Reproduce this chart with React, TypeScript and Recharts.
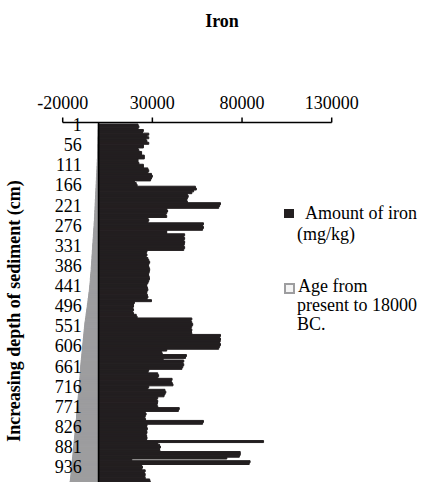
import React from 'react';
import { BarChart, Bar, XAxis, YAxis, ReferenceLine } from 'recharts';

const depths = [
  1, 6, 11, 16, 21, 26, 31, 36, 41, 46,
  51, 56, 61, 66, 71, 76, 81, 86, 91, 96,
  101, 106, 111, 116, 121, 126, 131, 136, 141, 146,
  151, 156, 161, 166, 171, 176, 181, 186, 191, 196,
  201, 206, 211, 216, 221, 226, 231, 236, 241, 246,
  251, 256, 261, 266, 271, 276, 281, 286, 291, 296,
  301, 306, 311, 316, 321, 326, 331, 336, 341, 346,
  351, 356, 361, 366, 371, 376, 381, 386, 391, 396,
  401, 406, 411, 416, 421, 426, 431, 436, 441, 446,
  451, 456, 461, 466, 471, 476, 481, 486, 491, 496,
  501, 506, 511, 516, 521, 526, 531, 536, 541, 546,
  551, 556, 561, 566, 571, 576, 581, 586, 591, 596,
  601, 606, 611, 616, 621, 626, 631, 636, 641, 646,
  651, 656, 661, 666, 671, 676, 681, 686, 691, 696,
  701, 706, 711, 716, 721, 726, 731, 736, 741, 746,
  751, 756, 761, 766, 771, 776, 781, 786, 791, 796,
  801, 806, 811, 816, 821, 826, 831, 836, 841, 846,
  851, 856, 861, 866, 871, 876, 881, 886, 891, 896,
  901, 906, 911, 916, 921, 926, 931, 936, 941, 946,
  951, 956, 961, 966, 971, 976, 981, 986,
];

const ironValues = [
  22000, 22500, 22000, 25000, 24500, 28000, 27000, 28000, 26500, 27000,
  28000, 25000, 25000, 22000, 22500, 24000, 24000, 25500, 25500, 22000,
  22000, 22500, 25000, 25000, 27500, 28000, 27500, 29500, 30000, 29500,
  29000, 20000, 21000, 21500, 54000, 54500, 53000, 52000, 49500, 50000,
  49500, 49000, 49500, 68000, 67500, 67000, 38000, 38500, 38000, 37500,
  38000, 27500, 28000, 27500, 58500, 58000, 58500, 58000, 38000, 38000,
  48000, 47500, 48000, 47500, 48000, 47800, 47500, 48000, 47500, 27000,
  26500, 27000, 26500, 27500, 28000, 28500, 28000, 27800, 28200, 28500,
  28300, 28000, 27800, 28200, 28400, 28000, 27600, 27000, 26800, 27200,
  27500, 27000, 26800, 27200, 27500, 27000, 29500, 20000, 19500, 19500,
  19000, 19500, 19000, 19500, 21000, 21500, 52000, 51500, 52000, 52500,
  52000, 51500, 52000, 51800, 52000, 68000, 67500, 68000, 67800, 67500,
  68000, 67500, 67000, 38000, 35000, 35500, 49000, 48500, 36000, 47500,
  47000, 47500, 47000, 46500, 28000, 27500, 33000, 33500, 33000, 41000,
  40500, 41000, 41500, 28000, 27500, 37000, 37500, 37000, 36500, 33000,
  32500, 33000, 32800, 32500, 33000, 45000, 44500, 26000, 26500, 26000,
  25800, 26200, 58500, 58000, 27000, 26800, 27200, 26800, 27000, 26500,
  26800, 27000, 26800, 92000, 33000, 34000, 34500, 34000, 34200, 79000,
  79000, 78500, 71500, 18500, 84500, 84000, 24000, 24500, 24000, 26000,
  25500, 26000, 25800, 26000, 28500, 28800, 28500, 28000,
];

const ageValues = [
  -200, -200, -200, -300, -300, -300, -300, -400, -400, -400,
  -400, -500, -500, -500, -500, -600, -600, -600, -600, -700,
  -700, -800, -800, -900, -900, -1000, -1000, -1100, -1100, -1200,
  -1200, -1300, -1300, -1400, -1400, -1500, -1500, -1600, -1600, -1700,
  -1700, -1800, -1800, -1900, -1900, -2000, -2000, -2100, -2100, -2200,
  -2200, -2300, -2300, -2400, -2500, -2500, -2600, -2700, -2700, -2800,
  -2900, -2900, -3000, -3100, -3100, -3200, -3300, -3300, -3400, -3500,
  -3500, -3600, -3700, -3700, -3800, -3900, -3900, -4000, -4100, -4100,
  -4200, -4300, -4400, -4500, -4600, -4600, -4700, -4800, -4900, -5000,
  -5100, -5200, -5400, -5500, -5600, -5800, -5900, -6000, -6200, -6300,
  -6400, -6600, -6700, -6900, -7000, -7100, -7300, -7400, -7600, -7700,
  -7800, -7900, -8000, -8100, -8200, -8300, -8400, -8500, -8600, -8700,
  -8800, -8900, -9000, -9100, -9200, -9300, -9400, -9500, -9600, -9700,
  -9800, -9900, -10000, -10100, -10100, -10200, -10300, -10300, -10400, -10500,
  -10500, -10600, -10700, -10800, -10900, -11000, -11100, -11200, -11300, -11400,
  -11500, -11600, -11700, -11800, -11900, -12000, -12000, -12100, -12200, -12300,
  -12300, -12400, -12500, -12600, -12700, -12800, -12900, -13000, -13100, -13200,
  -13300, -13400, -13500, -13600, -13700, -13800, -13900, -14000, -14100, -14200,
  -14300, -14400, -14500, -14600, -14700, -14800, -14900, -15000, -15100, -15200,
  -15300, -15400, -15500, -15600, -15700, -15900, -16000, -16100,
];

const xTicks = [-20000, 30000, 80000, 130000];

const ironName = 'Amount of iron (mg/kg)';
const ageName = 'Age from present to 18000 BC.';

const data = depths.map((d, i) => ({ depth: d, iron: ironValues[i], age: ageValues[i] }));

const FONT = '"Liberation Serif", "Times New Roman", Times, serif';
const INK = '#231f20';
const GRAY = '#9d9d9f';

const DepthTick = (props: any) => {
  const { x, y, payload } = props;
  return (
    <text x={x + 19} y={y} dy="0.34em" textAnchor="end" fontFamily={FONT} fontSize={18} fill="#000">
      {payload.value}
    </text>
  );
};

const textBase: React.CSSProperties = {
  position: 'absolute',
  fontFamily: FONT,
  fontSize: 18,
  lineHeight: '19.5px',
  color: '#000',
  whiteSpace: 'nowrap',
};

export default function App() {
  return (
    <div
      style={{
        position: 'fixed',
        left: 0,
        top: 0,
        width: 423,
        height: 482,
        overflow: 'hidden',
        background: '#fff',
      }}
    >
      <BarChart
        width={423}
        height={496}
        data={data}
        layout="vertical"
        margin={{ top: 92.5, right: 91.3, bottom: 9.7, left: 22.7 }}
        barCategoryGap={0}
        barGap={0}
        stackOffset="sign"
      >
        <XAxis
          type="number"
          orientation="top"
          domain={[-20000, 130000]}
          ticks={xTicks}
          interval={0}
          height={30}
          tickSize={5}
          tickMargin={9}
          stroke="#000"
          strokeWidth={1.5}
          tick={{ fontSize: 18, fontFamily: FONT, fill: '#000' }}
        />
        <YAxis
          type="category"
          dataKey="depth"
          width={40}
          interval={10}
          tickLine={false}
          axisLine={false}
          tickSize={0}
          tickMargin={0}
          padding={{ top: 1.5, bottom: 0 }}
          tick={<DepthTick />}
        />
        <Bar
          dataKey="age"
          name={ageName}
          stackId="s"
          fill={GRAY}
          stroke={GRAY}
          strokeWidth={1}
          isAnimationActive={false}
        />
        <Bar
          dataKey="iron"
          name={ironName}
          stackId="s"
          fill={INK}
          stroke={INK}
          strokeWidth={1}
          isAnimationActive={false}
        />
        <ReferenceLine x={0} stroke="#000" strokeWidth={1.6} />
      </BarChart>

      <div style={{ ...textBase, left: 172, top: 12, width: 100, textAlign: 'center', fontWeight: 'bold', lineHeight: '18px' }}>
        Iron
      </div>

      <div
        style={{
          ...textBase,
          left: 14 - 150,
          top: 310.5 - 9,
          width: 300,
          lineHeight: '18px',
          textAlign: 'center',
          fontWeight: 'bold',
          transform: 'rotate(-90deg)',
        }}
      >
        Increasing depth of sediment (cm)
      </div>

      <div style={{ position: 'absolute', left: 284, top: 209, width: 10, height: 9, background: INK }} />
      <div style={{ ...textBase, left: 305, top: 204 }}>Amount of iron</div>
      <div style={{ ...textBase, left: 297, top: 225 }}>(mg/kg)</div>

      <div
        style={{
          position: 'absolute',
          left: 284,
          top: 283,
          width: 7,
          height: 7,
          border: `2px solid ${GRAY}`,
          background: '#f4f4f4',
        }}
      />
      <div style={{ ...textBase, left: 298, top: 277 }}>Age from</div>
      <div style={{ ...textBase, left: 297, top: 296 }}>present to 18000</div>
      <div style={{ ...textBase, left: 297, top: 315 }}>BC.</div>
    </div>
  );
}
